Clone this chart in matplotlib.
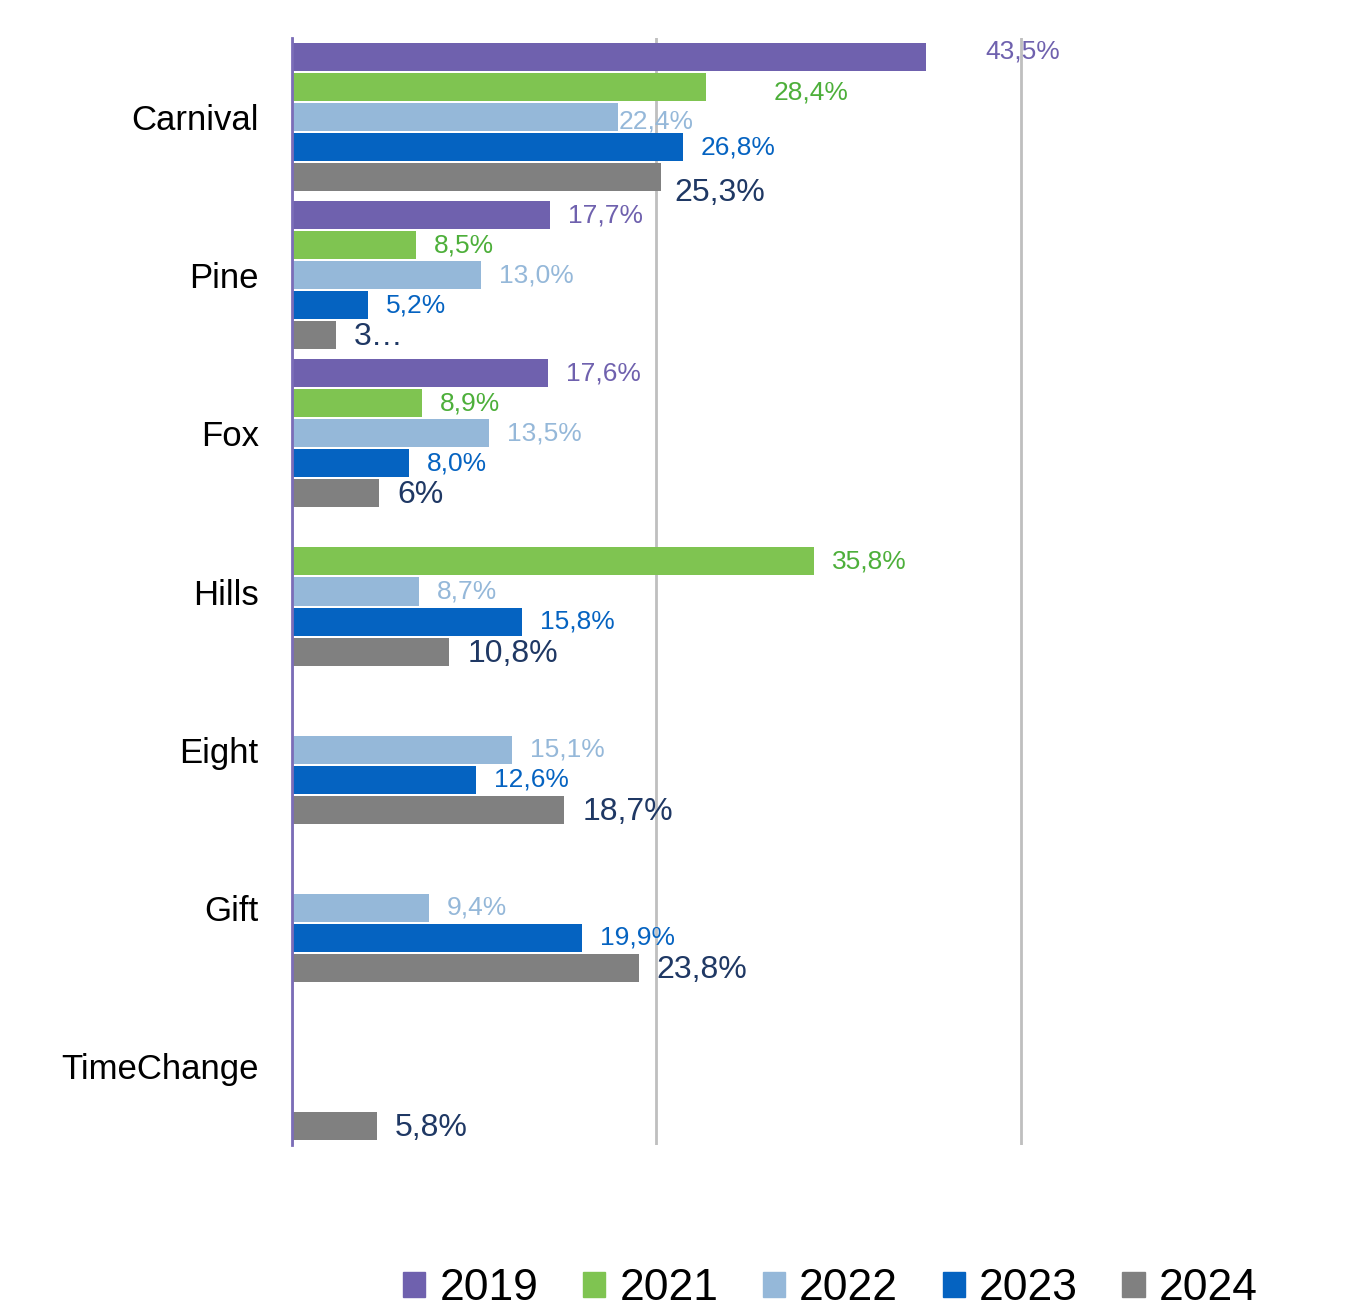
import matplotlib
matplotlib.use('Agg')
import matplotlib.pyplot as plt
import numpy as np

# Data
categories = ['Carnival', 'Pine', 'Fox', 'Hills', 'Eight', 'Gift', 'TimeChange']
years = ['2019', '2021', '2022', '2023', '2024']

v2019 = [43.5, 17.7, 17.6, None, None, None, None]
v2021 = [28.4, 8.5, 8.9, 35.8, None, None, None]
v2022 = [22.4, 13.0, 13.5, 8.7, 15.1, 9.4, None]
v2023 = [26.8, 5.2, 8.0, 15.8, 12.6, 19.9, None]
v2024 = [25.3, 3.0, 6.0, 10.8, 18.7, 23.8, 5.8]
labels2024 = ['25,3%', '3…', '6%', '10,8%', '18,7%', '23,8%', '5,8%']

series = [v2019, v2021, v2022, v2023, v2024]

bar_colors = ['#6F61AE', '#7FC451', '#95B8D9', '#0563C1', '#808080']
label_colors = ['#6F61AE', '#4DAF3A', '#95B8D9', '#0563C1', '#1F3864']
label_sizes = [19, 19, 19, 19, 23]

# manual label shifts in pixels (dx, dy) - like the hand-placed excel labels
shifts = {
    (0, 0): (60, 6),
    (0, 1): (68, -5),
    (0, 2): (0, -4),
    (0, 4): (14, -16),
}

plt.rcParams['font.family'] = ['Liberation Sans', 'DejaVu Sans']

fig = plt.figure(figsize=(13.57, 13.14), dpi=100, facecolor='white')
ax = fig.add_axes([292 / 1357, 1 - 1145 / 1314, 1020 / 1357, 1107 / 1314])

slot = 30 / 158.1
height = 28 / 158.1
y = np.arange(len(categories))

for j, vals in enumerate(series):
    for i, v in enumerate(vals):
        if v is None:
            continue
        yc = y[i] + (j - 2) * slot
        ax.barh(yc, v, height=height, color=bar_colors[j], zorder=2)
        if j == 4:
            txt = labels2024[i]
            dx, dy = 18, -2
        else:
            txt = f'{v:.1f}'.replace('.', ',') + '%'
            dx, dy = 18, 0
        dx, dy = shifts.get((i, j), (dx, dy))
        ax.annotate(txt, (v, yc), xytext=(dx * 0.72, dy * 0.72),
                    textcoords='offset points', ha='left', va='center',
                    fontsize=label_sizes[j], color=label_colors[j], zorder=3)

ax.set_xlim(0, 70)
ax.set_ylim(len(categories) - 0.5, -0.5)
ax.set_xticks([0, 25, 50])
ax.xaxis.grid(True, color='#BFBFBF', linewidth=2)
ax.set_axisbelow(True)
ax.tick_params(axis='x', length=0, labelbottom=False)
ax.tick_params(axis='y', length=0, pad=24)
ax.set_yticks(y)
ax.set_yticklabels(categories, fontsize=25, color='black')

for s in ['top', 'right', 'bottom']:
    ax.spines[s].set_visible(False)
ax.spines['left'].set_color('#7B6DB8')
ax.spines['left'].set_linewidth(2)
ax.spines['left'].set_zorder(4)

handles = [plt.Rectangle((0, 0), 1, 1, color=c) for c in bar_colors]
fig.legend(handles, years, loc='lower center', bbox_to_anchor=(0.612, -0.027),
           ncol=5, frameon=False, handlelength=0.5, handleheight=0.5,
           handletextpad=0.32, columnspacing=1.0,
           prop={'family': ['Liberation Sans Narrow', 'Liberation Sans'], 'size': 32})

plt.savefig('out.png', dpi=100, facecolor='white')
